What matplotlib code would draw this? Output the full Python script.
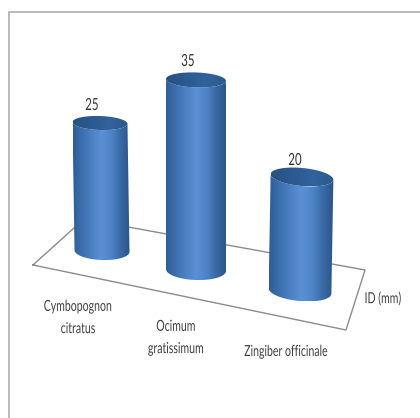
import numpy as np
import matplotlib
matplotlib.use("Agg")
import matplotlib.pyplot as plt
from matplotlib.colors import LinearSegmentedColormap
from matplotlib.patches import PathPatch
from matplotlib.path import Path
from matplotlib.patheffects import AbstractPathEffect
from matplotlib.transforms import Affine2D

plt.rcParams['font.family'] = ['Lato', 'DejaVu Sans']

# Inhibition diameters
categories = ["Cymbopognon\ncitratus", "Ocimum\ngratissimum", "Zingiber officinale"]
values = [25, 35, 20]
series_name = "ID (mm)"

# Pseudo-3D layout, in pixels
base_x = [102, 196, 300]
top_x = [100, 196, 302]
base_y = [251, 270, 291]
unit_px = [5.12, 5.43, 5.7]
half_width = [27.5, 30, 31.5]
ry_top = [7, 7.5, 9]
ry_base = [9, 10, 10]
tilt_deg = [2, 2, 5.5]
label_xy = [(78, 318), (176, 338), (286, 352)]
value_xy = [(92, 105), (188, 61), (295, 160)]

body_cmap = LinearSegmentedColormap.from_list(
    "body", ["#2f5e96", "#3d70ae", "#4c82c4", "#5a90d4", "#4f85c8", "#3a6aa5", "#2b5488"])
cap_cmap = LinearSegmentedColormap.from_list(
    "cap", ["#27507f", "#2c5a91", "#31629b", "#2c5a90"])


class Condensed(AbstractPathEffect):
    """Narrow each text line horizontally about its own centre."""

    def __init__(self, factor):
        super().__init__()
        self.factor = factor

    def draw_path(self, renderer, gc, tpath, affine, rgbFace=None):
        xs = affine.transform(tpath.vertices)[:, 0]
        cx = 0.5 * (xs.min() + xs.max())
        narrowed = affine + Affine2D().translate(-cx, 0).scale(self.factor, 1).translate(cx, 0)
        renderer.draw_path(gc, tpath, narrowed, rgbFace)


condensed = [Condensed(0.69)]


def arc(cx, cy, rx, ry, tilt, t0, t1, n=60):
    t = np.linspace(t0, t1, n)
    a = np.radians(tilt)
    x = rx * np.cos(t)
    y = ry * np.sin(t)
    return np.column_stack([cx + x * np.cos(a) - y * np.sin(a),
                            cy + x * np.sin(a) + y * np.cos(a)])


def fill_gradient(ax, pts, cmap, zorder):
    patch = PathPatch(Path(np.vstack([pts, pts[:1]])), fc="none", ec="none", zorder=zorder)
    ax.add_patch(patch)
    x0, x1 = pts[:, 0].min(), pts[:, 0].max()
    y0, y1 = pts[:, 1].min(), pts[:, 1].max()
    grad = np.linspace(0, 1, 256)[None, :]
    im = ax.imshow(grad, cmap=cmap, extent=(x0, x1, y1, y0), aspect="auto",
                   zorder=zorder, interpolation="bilinear")
    im.set_clip_path(patch)


fig = plt.figure(figsize=(4.2, 4.18), dpi=100, facecolor="white")
ax = fig.add_axes([0, 0, 1, 1])
ax.axis("off")

# Outer chart frame
ax.plot([9, 9, 420], [418, 12, 12], color="#b4b4b4", lw=1.3, solid_joinstyle="miter", zorder=1)

# Floor plane
floor = np.array([[33, 265], [84, 219], [365, 270], [346, 330], [33, 265]])
ax.plot(floor[:, 0], floor[:, 1], color="#8c8c8c", lw=1.0, zorder=2)

# Cylinders
for i, v in enumerate(values):
    ty = base_y[i] - v * unit_px[i]
    top = arc(top_x[i], ty, half_width[i], ry_top[i], tilt_deg[i], 0, 2 * np.pi)
    front_top = arc(top_x[i], ty, half_width[i], ry_top[i], tilt_deg[i], np.pi, 0)
    front_base = arc(base_x[i], base_y[i], half_width[i], ry_base[i], tilt_deg[i], np.pi, 0)
    body = np.vstack([front_top, front_base[::-1]])
    fill_gradient(ax, body, body_cmap, 3 + i * 0.1)
    fill_gradient(ax, top, cap_cmap, 3.05 + i * 0.1)
    ax.text(value_xy[i][0], value_xy[i][1], str(v), ha="center", va="center",
            fontsize=12, color="#333333", zorder=5, path_effects=condensed)
    ax.text(label_xy[i][0], label_xy[i][1], categories[i], ha="center", va="center",
            fontsize=11, color="#404040", linespacing=1.75, zorder=5, path_effects=condensed)

ax.text(383, 299, series_name, ha="center", va="center", fontsize=11, color="#404040",
        path_effects=condensed)

ax.set_xlim(0, 420)
ax.set_ylim(418, 0)
fig.savefig("out.png", dpi=100, facecolor="white")
